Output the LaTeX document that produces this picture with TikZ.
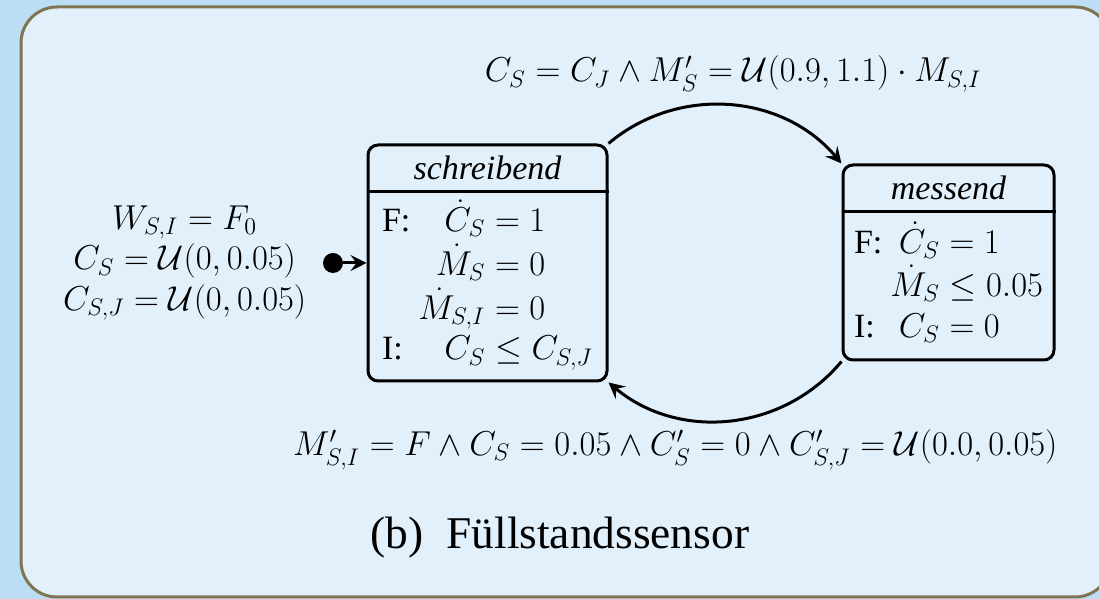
\documentclass[tikz,border=0pt]{standalone}
\usepackage[no-math]{fontspec}
\setmainfont{Liberation Serif}
\usepackage{amsmath}
\usepackage{amssymb}
\usepackage{array}
\usetikzlibrary{arrows.meta, positioning}

\definecolor{pagebg}{HTML}{BCDEF4}
\definecolor{panelbg}{HTML}{E2F0FB}
\definecolor{panelframe}{HTML}{7F7651}

\begin{document}
\begin{tikzpicture}[
    x=0.5pt, y=0.5pt,
    font=\fontsize{17}{20.4}\selectfont,
    state box/.style = {
        draw=black,
        line width=1.5pt,
        rounded corners=5pt,
        inner sep=0pt
    },
    state name/.style = {minimum height=23.5pt, inner sep=0pt, font=\fontsize{17}{20.4}\selectfont\itshape},
    state body/.style = {inner sep=0pt},
    guard label/.style = {inner sep=0pt},
    trans/.style = {-{Stealth[length=8pt, width=8pt, inset=3pt]}, line width=1.5pt}
]

\useasboundingbox (0,0) rectangle (1099,599);
\fill[pagebg] (0,0) rectangle (1099,599);
\draw[panelframe, fill=panelbg, line width=1.5pt, rounded corners=18pt] (21,2) rectangle (1111,592);

% states
\node [state box, minimum width=119.5pt, minimum height=118pt] (schreibend) at (487.5,336) {};
\node [state name, below=0pt of schreibend.north] (schreibend name) {schreibend};
\draw[line width=1.5pt] (schreibend.west |- schreibend name.south) -- (schreibend.east |- schreibend name.south);
\node [state body, below=0pt of schreibend name, minimum height=94.5pt] (schreibend body) {%
    \begin{tabular}{@{}l@{\hspace{4pt}}>{$}r<{$}@{}>{${}}l<{$}@{}}
    F: & \dot{C}_S & = 1 \\
       & \dot{M}_S & = 0 \\
       & \dot{M}_{S,I} & = 0 \\
    I: & C_S & \leq C_{S,J}
    \end{tabular}};

\node [state box, minimum width=105.5pt, minimum height=97.5pt] (messend) at (948.5,336.5) {};
\node [state name, below=0pt of messend.north] (messend name) {messend};
\draw[line width=1.5pt] (messend.west |- messend name.south) -- (messend.east |- messend name.south);
\node [state body, below=0pt of messend name, minimum height=74pt] (messend body) {%
    \begin{tabular}{@{}l@{\hspace{4pt}}>{$}r<{$}@{}>{${}}l<{$}@{}}
    F: & \dot{C}_S & = 1 \\
       & \dot{M}_S & \leq 0.05 \\
    I: & C_S & = 0
    \end{tabular}};

% initial state
\node [circle, fill=black, inner sep=0pt, minimum size=10pt] (init) at (333,336) {};
\node [guard label, align=center, left=8pt of init] (init label)
    {$W_{S,I} = F_0$\\ $C_S = \mathcal{U}(0, 0.05)$\\ $C_{S,J} = \mathcal{U}(0, 0.05)$};
\draw[trans] (init) -- (schreibend);

% transitions
\draw[trans] (schreibend.north east) to[bend left=45]
    node[midway, above=6pt, xshift=2pt, guard label] (measure label)
    {$C_S = C_J \wedge M'_S = \mathcal{U}(0.9, 1.1) \cdot M_{S,I}$} (messend.north west);

\draw[trans] (messend.south west) to[bend left=45]
    node[midway, below=4pt, xshift=-27pt, guard label] (write label)
    {$M'_{S,I} = F \wedge C_S = 0.05 \wedge C'_S = 0 \wedge C'_{S,J} = \mathcal{U}(0.0, 0.05)$} (schreibend.south east);

\node [font=\fontsize{22.7}{27}\selectfont] (caption) at (560,61) {(b)\enspace Füllstandssensor};

\end{tikzpicture}
\end{document}
